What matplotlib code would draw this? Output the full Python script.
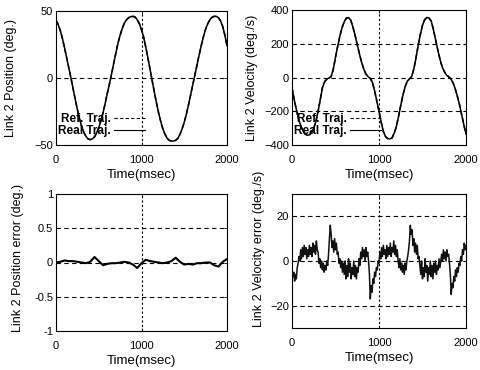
import numpy as np
import matplotlib
matplotlib.use("Agg")
import matplotlib.pyplot as plt
from matplotlib.lines import Line2D

plt.rcParams['font.family'] = ['Liberation Sans', 'DejaVu Sans']

# ---------------- data ----------------
pos_ref = [43, 40, 35.5, 29.5, 22.5, 15, 7.5, 0, -8, -16, -23.5, -30.5, -36, -40.5, -43.5,
           -45.5, -46, -45.5, -44, -41, -37, -32, -26, -19, -11.5, -4.5, 3, 11, 18.5, 26,
           32, 37, 41, 43.5, 45, 45.8, 46, 45.5, 43.5, 40.5, 36, 30.5, 23, 15, 6.5, -2,
           -10.5, -18.5, -26, -32.5, -38, -42, -45, -46.5, -47, -47, -46.5, -45, -42, -38,
           -33, -27, -20, -12.5, -5, 2.5, 10, 17.5, 24.5, 31, 36.5, 40.5, 43.5, 45.3, 46,
           46, 45, 42.5, 38.5, 32, 24]

vel_ref = [-60, -130, -190, -245, -285, -315, -335, -342, -340, -325, -300, -260, -200,
           -130, -60, -25, -10, -3, 5, 50, 120, 185, 245, 295, 330, 352, 355, 340, 300,
           250, 195, 140, 90, 50, 20, 5, -5, -30, -80, -140, -200, -265, -320, -350, -362,
           -364, -358, -330, -290, -230, -165, -105, -55, -22, -8, 5, 50, 115, 190, 255,
           310, 342, 356, 352, 335, 285, 225, 165, 110, 65, 35, 15, 5, -8, -30, -65, -110,
           -160, -220, -280, -335]

pos_err = [0.0, 0.01, 0.03, 0.02, 0.02, 0.01, 0.0, -0.01, 0.01, 0.08, 0.02, -0.04, -0.02,
           -0.01, -0.01, 0.0, 0.01, 0.0, -0.03, -0.08, -0.01, 0.04, 0.02, 0.01, 0.0, -0.01,
           0.0, 0.02, 0.07, 0.01, -0.03, -0.02, -0.03, -0.01, -0.01, 0.0, 0.0, -0.04, -0.06,
           0.01, 0.05]

vel_err = [-4, -7, -5, -9, -6, -8, -3,
           -1, 2, 0,
           5, 1, 6, 2, 7, 3, 6, 1, 5, 2, 7, 3, 6, 2, 8, 4, 7, 3, 9, 5,
           4, -1, 1, -3, 0, -4, -1, -5, -2, -4, 0, -2, 3,
           10, 16, 12, 6,
           9, 4, 10, 5, 8, 3, 4,
           -1, 1, -3, 0, -5,
           -1, -6, 0, -8, -2, -7, 1, -5, -1, -8, -3, -6, 0, -7, -2, -8, -3, -5, 1, -2,
           4, 1, 6, 2, 5, 0, 6, 2, 4, 0,
           -6, -17, -11, -14,
           -8, -10, -5, -7, -3, -4, 0, -1,
           4, 1, 6, 2, 7, 3, 5, 1, 7, 2, 6, 3, 8, 2, 6, 4, 9, 3, 7, 2, 5,
           0, -3, 1, -4, -1, -5, -2, -6, -1, -4, 0, 2,
           5, 9, 16, 12, 14, 7,
           10, 4, 8, 3, 7, 1, 2,
           -2, -6, 0, -8, -3, -7, 1, -5, -2, -9, -3, -6, 0, -7, -2, -8, -1, -5, 0, -6,
           -2, -4, 1, -3, 0,
           3, 0, 5, 1, 4, 0, 5, 2, 3, -1,
           -6, -15, -10, -12, -7,
           -9, -4, -7, -3, -5, -1, -2, 2, 0,
           5, 3, 8, 5, 7]

x_ticks = [0, 1000, 2000]

t_pos = np.linspace(0, 2000, len(pos_ref))
t_vel = np.linspace(0, 2000, len(vel_ref))
t_perr = np.linspace(0, 2000, len(pos_err))
t_verr = np.linspace(0, 2000, len(vel_err))

fig = plt.figure(figsize=(4.8, 3.7), dpi=100)

rects = {
    'tl': [56/480, 1-145/370, 171/480, 134/370],
    'tr': [292/480, 1-145/370, 174/480, 135/370],
    'bl': [56/480, 1-331/370, 171/480, 137/370],
    'br': [292/480, 1-328/370, 174/480, 134/370],
}

FS = 8
LFS = 9

def style(ax, yticks, ylim, ylabel, lab_x, lab_y):
    ax.set_xlim(0, 2000)
    ax.set_ylim(*ylim)
    ax.set_xticks(x_ticks)
    ax.set_yticks(yticks)
    ax.tick_params(direction='in', length=2, width=0.6, labelsize=FS, pad=2,
                   top=True, right=True)
    ax.tick_params(axis='x', pad=7)
    for s in ax.spines.values():
        s.set_linewidth(0.8)
    for y in yticks:
        if ylim[0] < y < ylim[1]:
            ax.axhline(y, color='black', lw=0.8, ls=(0, (4, 3)), zorder=1)
    ax.axvline(1000, color='black', lw=0.8, ls=(0, (2, 2)), zorder=1)
    ax.set_xlabel('Time(msec)', fontsize=9.5, labelpad=3)
    ax.set_ylabel(ylabel, fontsize=LFS)
    ax.yaxis.set_label_coords(lab_x, lab_y)

def add_legend(ax):
    h = [Line2D([], [], color='black', lw=0.8, ls=(0, (3, 2))),
         Line2D([], [], color='black', lw=0.8)]
    ax.legend(h, ['Ref. Traj.', 'Real Traj.'], loc='lower left', frameon=False,
              markerfirst=False, prop={'weight': 'bold', 'size': 8.5},
              handlelength=2.6, handletextpad=0.3, labelspacing=0.0,
              borderaxespad=0.0, borderpad=0.3, bbox_to_anchor=(-0.01, 0.03))

ax = fig.add_axes(rects['tl'])
ax.plot(t_pos, pos_ref, color='black', lw=1.1, ls=(0, (3, 2)), zorder=2)
ax.plot(t_pos, pos_ref, color='black', lw=1.1, zorder=3)
style(ax, [-50, 0, 50], (-50, 50), 'Link 2 Position (deg.)', -0.228, 0.5)
add_legend(ax)

ax = fig.add_axes(rects['tr'])
ax.plot(t_vel, vel_ref, color='black', lw=1.1, ls=(0, (3, 2)), zorder=2)
ax.plot(t_vel, vel_ref, color='black', lw=1.1, zorder=3)
style(ax, [-400, -200, 0, 200, 400], (-400, 400), 'Link 2 Velocity (deg./s)', -0.195, 0.5)
add_legend(ax)

ax = fig.add_axes(rects['bl'])
ax.plot(t_perr, pos_err, color='black', lw=1.5, zorder=3)
style(ax, [-1, -0.5, 0, 0.5, 1], (-1, 1), 'Link 2 Position error (deg.)', -0.187, 0.53)
ax.set_yticklabels(['-1', '-0.5', '0', '0.5', '1'])

ax = fig.add_axes(rects['br'])
ax.plot(t_verr, vel_err, color='#111111', lw=1.1, zorder=3)
style(ax, [-20, 0, 20], (-30, 30), 'Link 2 Velocity error (deg./s)', -0.155, 0.59)

fig.savefig('out.png', dpi=100)
